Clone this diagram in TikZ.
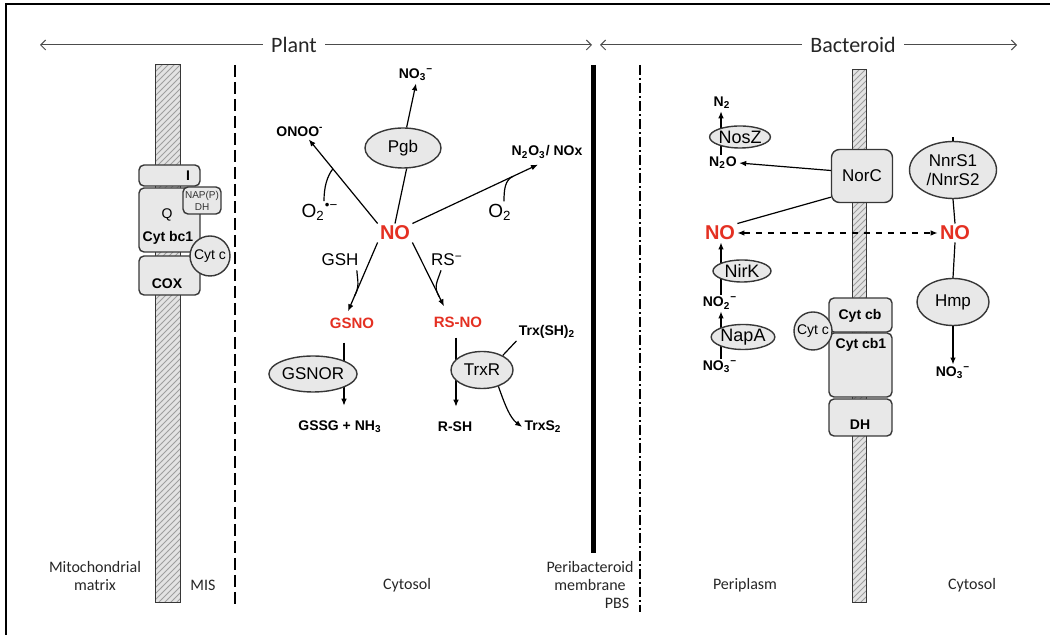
\documentclass[tikz,border=0pt]{standalone}
\usepackage{fontspec}
\setmainfont{Liberation Sans}
\newfontfamily\calfont{Carlito}
\usetikzlibrary{shapes.geometric,arrows.meta,patterns}

\definecolor{nored}{RGB}{228,48,34}
\definecolor{protfill}{RGB}{232,232,232}
\definecolor{edge}{RGB}{55,55,55}

\tikzset{
  prot/.style={ellipse,draw=edge,fill=protfill,line width=.7pt,inner sep=0pt,font=\fontsize{8.5}{9.5}\selectfont},
  cplx/.style={draw=edge,fill=protfill,line width=.7pt,rounded corners=2.5pt},
  cytc/.style={circle,draw=edge,fill=protfill,line width=.7pt,inner sep=0pt,font=\fontsize{7}{8}\selectfont},
  chem/.style={inner sep=1pt,font=\bfseries\fontsize{7}{8}\selectfont},
  nitric/.style={inner sep=1pt,text=nored,font=\bfseries\fontsize{10}{11}\selectfont},
  snitro/.style={inner sep=1pt,text=nored,font=\bfseries\fontsize{7.5}{8.5}\selectfont},
  ion/.style={inner sep=1pt,font=\fontsize{9.5}{11}\selectfont},
  zone/.style={align=center,text=black!85,font=\calfont\fontsize{8}{9}\selectfont},
  side/.style={inner sep=4pt,text=black!85,font=\calfont\fontsize{11}{12}\selectfont},
  memb/.style={draw=edge,line width=.5pt,preaction={fill=gray!22},pattern=north east lines,pattern color=gray!75},
  rxn/.style={-{Latex[length=3.5pt,width=2.8pt]},line width=.6pt},
  span/.style={black!70,line width=.5pt}
}

\begin{document}
\begin{tikzpicture}[x=0.5pt,y=-0.5pt,>={Straight Barb[length=2.5pt,width=5pt]}]
    \useasboundingbox (0,0) rectangle (1050,635);
    \draw[line width=1.2pt] (6,635) -- (6,4) -- (1050,4);

    % plant / bacteroid
    \node[side] (plant) at (294,45) {Plant};
    \node[side] (bact) at (853,45) {Bacteroid};
    \draw[span,<-] (40,45) -- (plant);
    \draw[span,->] (plant) -- (592,45);
    \draw[span,<-] (600,45) -- (bact);
    \draw[span,->] (bact) -- (1017,45);

    % membranes
    \draw[memb] (155,65) rectangle (180,603);
    \draw[line width=.7pt,dash pattern=on 6pt off 2.5pt] (235,65) -- (235,605);
    \draw[line width=2.5pt] (593,65) -- (593,553);
    \draw[line width=.6pt,dash pattern=on 5pt off 1.5pt on 1pt off 1.5pt] (640,65) -- (640,612);
    \draw[memb] (852,70) rectangle (866,603);

    % mitochondrial chain
    \draw[cplx] (139,165) rectangle (200,186);
    \draw[cplx] (139,188) rectangle (200,252);
    \draw[cplx] (139,256) rectangle (200,295);
    \draw[cplx] (183,187) rectangle (221,214);
    \node[chem] (cI) at (188,176) {I};
    \node[inner sep=1pt,font=\fontsize{7}{8}\selectfont] (cQ) at (167,215) {Q};
    \node[chem] (bc1) at (168,238) {Cyt bc1};
    \node[align=center,inner sep=0pt,text=black!80,font=\fontsize{5}{6}\selectfont] (napdh) at (202,201) {NAP(P)\\DH};
    \node[chem] (cox) at (167,284) {COX};
    \node[cytc,minimum size=20pt] (cytcm) at (210,256) {Cyt c};

    % cytosol
    \node[nitric] (no) at (395,233) {NO};
    \node[chem] (nitrate) at (416,75) {NO\textsubscript{3}\textsuperscript{−}};
    \node[chem] (onoo) at (300,132) {ONOO\textsuperscript{-}};
    \node[chem] (nox) at (547,152) {N\textsubscript{2}O\textsubscript{3}/ NOx};
    \node[ion] (supox) at (320,212) {O\textsubscript{2}\textsuperscript{•−}};
    \node[ion] (oxy) at (500,212) {O\textsubscript{2}};
    \node[prot,minimum width=38pt,minimum height=20pt] (pgb) at (403,148) {Pgb};
    \draw[rxn] (pgb.80) -- (nitrate.south);
    \draw[line width=.6pt] (no.north) -- (pgb.280);
    \draw[rxn] (no.north west) -- coordinate[pos=.65] (j1) (onoo.-40);
    \draw[rxn] (no.north east) -- coordinate[pos=.8] (j2) ([xshift=-4.5pt,yshift=-2pt]nox.south);
    \draw[line width=.6pt] ([xshift=2pt]supox.north) .. controls +(0,-14) and +(-6,8) .. (j1);
    \draw[line width=.6pt] ([xshift=2pt]oxy.north) .. controls +(0,-12) and +(-8,4) .. (j2);

    \node[ion,font=\fontsize{8.5}{9.5}\selectfont] (gsh) at (340,260) {GSH};
    \node[ion,font=\fontsize{8.5}{9.5}\selectfont] (rs) at (447,260) {RS\textsuperscript{−}};
    \node[snitro] (gsno) at (352,323) {GSNO};
    \node[snitro] (rsno) at (458,322) {RS-NO};
    \draw[rxn] (no.south west) -- coordinate[pos=.78] (j3) ([xshift=-2pt,yshift=2pt]gsno.north);
    \draw[rxn] (no.south east) -- coordinate[pos=.85] (j4) ([xshift=-7pt,yshift=4pt]rsno.north);
    \draw[line width=.6pt] ([xshift=-2pt,yshift=-1pt]gsh.south east) .. controls +(1,12) and +(5,-10) .. (j3);
    \draw[line width=.6pt] ([xshift=-3pt,yshift=-1pt]rs.south) .. controls +(-4,12) and +(-6,-10) .. (j4);

    \node[chem] (gssg) at (340,427) {GSSG + NH\textsubscript{3}};
    \node[chem] (rsh) at (455,427) {R-SH};
    \node[chem] (trxsh) at (547,332) {Trx(SH)\textsubscript{2}};
    \node[chem] (trxs) at (543,427) {TrxS\textsubscript{2}};
    \draw[rxn] ([xshift=-4pt,yshift=-6pt]gsno.south) -- ++(0,63);
    \draw[rxn] ([xshift=-1pt,yshift=-4pt]rsno.south) -- ++(0,69);
    \node[prot,minimum width=41.5pt,minimum height=18pt] (gsnor) at (313,374) {GSNOR};
    \node[prot,minimum width=31pt,minimum height=18.5pt] (trxr) at (482,370) {TrxR};
    \draw[line width=.6pt] (trxsh.south west) -- (trxr.35);
    \draw[rxn] (trxr.-45) .. controls (505,405) and (510,418) .. (trxs.west);

    % bacteroid
    \node[chem] (ntwo) at (722,103) {N\textsubscript{2}};
    \node[chem] (ntwoo) at (723,163) {N\textsubscript{2}O};
    \node[nitric] (nop) at (720,233) {NO};
    \node[chem] (nitr) at (720,303) {NO\textsubscript{2}\textsuperscript{−}};
    \node[chem] (nitp) at (720,367) {NO\textsubscript{3}\textsuperscript{−}};
    \draw[rxn] ([xshift=-1pt]ntwoo.north) -- ([xshift=-1pt]ntwoo.north |- ntwo.south);
    \draw[rxn] ([xshift=.5pt]nitr.north) -- ([xshift=.5pt]nitr.north |- nop.south);
    \draw[rxn] ([xshift=.5pt]nitp.north) -- ([xshift=.5pt]nitp.north |- nitr.south);
    \node[prot,font=\fontsize{9}{10}\selectfont,minimum width=29pt,minimum height=11pt] (nosz) at (740,137) {NosZ};
    \node[prot,font=\fontsize{9}{10}\selectfont,minimum width=29pt,minimum height=11pt] (nirk) at (742,271) {NirK};
    \node[prot,font=\fontsize{9}{10}\selectfont,minimum width=31.5pt,minimum height=12.5pt] (napa) at (743,337) {NapA};

    \node[cplx,rounded corners=4pt,minimum width=30.5pt,minimum height=26.5pt,font=\fontsize{8.5}{9.5}\selectfont] (norc) at (862,176) {NorC};
    \draw[rxn] (norc.170) -- (ntwoo.east);
    \draw[line width=.6pt] ([yshift=3pt]norc.south west) -- (nop.north east);
    \draw[cplx] (829,298) rectangle (892,332);
    \draw[cplx] (829,333) rectangle (892,397);
    \draw[cplx] (829,399) rectangle (892,436);
    \node[chem] (cytcb) at (860,316) {Cyt cb};
    \node[chem] (cytcbo) at (861,345) {Cyt cb1};
    \node[chem] (dh) at (860,425) {DH};
    \node[cytc,minimum size=19pt] (cytcb2) at (813,331) {Cyt c};

    \node[nitric] (nob) at (955,233) {NO};
    \draw[dashed,line width=.6pt,{Latex[length=3.5pt,width=2.8pt]}-{Latex[length=3.5pt,width=2.8pt]}] (nop.east) -- (nob.west);
    \node[prot,align=center,minimum width=43.5pt,minimum height=28.5pt] (nnrs) at (953,170) {NnrS1\\/NnrS2};
    \node[prot,minimum width=36pt,minimum height=23.5pt] (hmp) at (953,302) {Hmp};
    \node[chem] (nitb) at (953,373) {NO\textsubscript{3}\textsuperscript{−}};
    \draw[line width=.6pt] (nnrs.north) -- ++(0,-4);
    \draw[line width=.6pt] (nnrs.south) -- (nob.north);
    \draw[line width=.6pt] (nob.south) -- (hmp.north);
    \draw[rxn] (hmp.south) -- (nitb.north);

    % compartments
    \node[zone] (mtx) at (95,576) {Mitochondrial\\matrix};
    \node[zone] (mis) at (203,585) {MIS};
    \node[zone] (cyto) at (407,585) {Cytosol};
    \node[zone] (pbm) at (590,576) {Peribacteroid\\membrane};
    \node[zone] (pbs) at (617,603) {PBS};
    \node[zone] (peri) at (745,585) {Periplasm};
    \node[zone] (cytb) at (972,585) {Cytosol};
\end{tikzpicture}
\end{document}
